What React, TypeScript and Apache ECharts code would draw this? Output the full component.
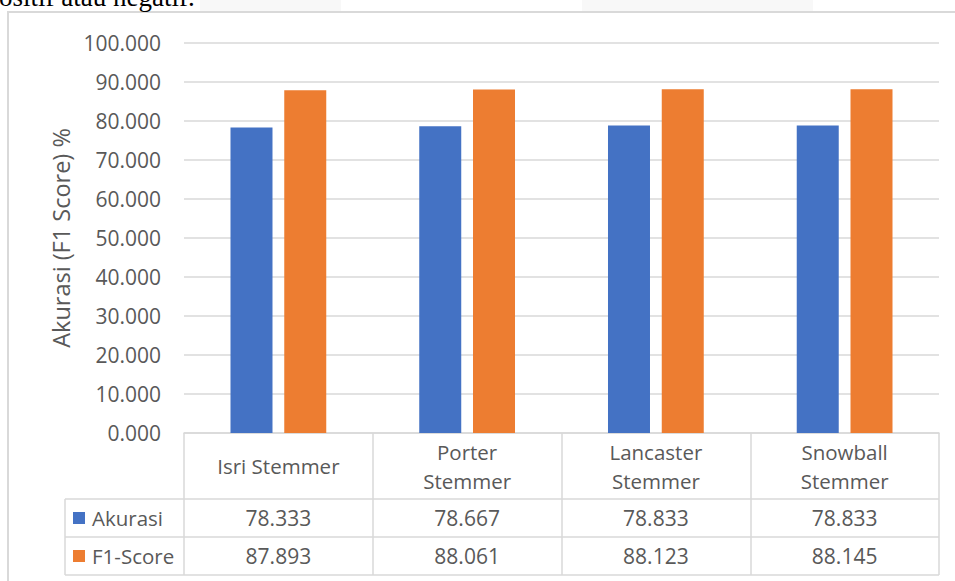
import React, { useEffect, useRef } from "react";
import * as echarts from "echarts";

const categories = ["Isri Stemmer", "Porter\nStemmer", "Lancaster\nStemmer", "Snowball\nStemmer"];
const seriesNames = ["Akurasi", "F1-Score"];
const akurasi = [78.333, 78.667, 78.833, 78.833];
const f1Score = [87.893, 88.061, 88.123, 88.145];
const yTicks = [0, 10, 20, 30, 40, 50, 60, 70, 80, 90, 100];
const yAxisTitle = "Akurasi (F1 Score) %";
const topText = "ositif atau negatif.";

const COLORS = ["#4472C4", "#ED7D31"];
const FONT = "Open Sans";
const TXT = "#595959";
const LINE = "#d9d9d9";

export default function App() {
  const ref = useRef<HTMLDivElement>(null);
  useEffect(() => {
    if (!ref.current) return;
    const chart = echarts.init(ref.current, null, { renderer: "svg" });
    const fmt = (v: number) => v.toFixed(3);
    chart.setOption({
      animation: false,
      grid: { left: 184, right: 16, top: 43, bottom: 148 },
      xAxis: {
        type: "category",
        data: categories,
        axisLine: { lineStyle: { color: LINE, width: 1.5 } },
        axisTick: { show: true, length: 142, lineStyle: { color: LINE, width: 1.5 } },
        axisLabel: {
          margin: 33,
          verticalAlign: "middle",
          lineHeight: 29,
          fontSize: 20.5,
          color: TXT,
          fontFamily: FONT,
        },
      },
      yAxis: {
        type: "value",
        min: yTicks[0],
        max: yTicks[yTicks.length - 1],
        interval: yTicks[1] - yTicks[0],
        axisLabel: { formatter: fmt, margin: 23, fontSize: 21, color: TXT, fontFamily: FONT },
        splitLine: { lineStyle: { color: LINE, width: 1.5 } },
        axisLine: { show: false },
        axisTick: { show: false },
        name: yAxisTitle,
        nameLocation: "middle",
        nameGap: 111,
        nameTextStyle: { fontSize: 23.5, color: TXT, fontFamily: FONT },
      },
      series: [
        { name: seriesNames[0], type: "bar", data: akurasi, barWidth: 42, barGap: "28%", itemStyle: { color: COLORS[0] } },
        { name: seriesNames[1], type: "bar", data: f1Score, barWidth: 42, barGap: "28%", itemStyle: { color: COLORS[1] } },
      ],
    });

    const y0 = chart.convertToPixel({ yAxisIndex: 0 }, 0) as number;
    const xs = categories.map((_, i) => chart.convertToPixel({ xAxisIndex: 0 }, i) as number);
    const step = xs.length > 1 ? xs[1] - xs[0] : 188;
    const xRight = xs[xs.length - 1] + step / 2;
    const xLeftTable = 65;
    const rowTops = [y0 + 66, y0 + 104, y0 + 142];
    const graphics: any[] = [];
    graphics.push({ type: "rect", shape: { x: 341, y: 0, width: 0, height: 0 }, style: { fill: "none" }, silent: true });
    graphics.push({ type: "rect", shape: { x: 582, y: 0, width: 231, height: 11 }, style: { fill: "#f8f8f8" }, silent: true });
    graphics.push({ type: "rect", shape: { x: 200, y: 0, width: 141, height: 11 }, style: { fill: "#f8f8f8" }, silent: true });
    graphics.push({ type: "rect", shape: { x: 8, y: 12, width: 1000, height: 700 }, style: { fill: "none", stroke: LINE, lineWidth: 2 }, silent: true });
    graphics.push({ type: "text", x: -1, y: -3, style: { text: topText, font: "27px 'Liberation Serif'", fill: "#000", textVerticalAlign: "middle" } });
    rowTops.forEach((y) => {
      graphics.push({ type: "line", shape: { x1: xLeftTable, y1: y, x2: xRight, y2: y }, style: { stroke: LINE, lineWidth: 1.5 }, silent: true });
    });
    graphics.push({ type: "line", shape: { x1: xLeftTable, y1: rowTops[0], x2: xLeftTable, y2: rowTops[2] }, style: { stroke: LINE, lineWidth: 1.5 }, silent: true });
    const rows = [akurasi, f1Score];
    rows.forEach((vals, r) => {
      const cy = (rowTops[r] + rowTops[r + 1]) / 2;
      graphics.push({ type: "rect", shape: { x: 73, y: cy - 6, width: 12, height: 12 }, style: { fill: COLORS[r] } });
      graphics.push({ type: "text", x: 92, y: cy, style: { text: seriesNames[r], font: `20.5px '${FONT}'`, fill: TXT, textAlign: "left", textVerticalAlign: "middle" } });
      vals.forEach((v, i) => {
        graphics.push({ type: "text", x: xs[i], y: cy, style: { text: fmt(v), font: `21px '${FONT}'`, fill: TXT, textAlign: "center", textVerticalAlign: "middle" } });
      });
    });
    chart.setOption({ graphic: graphics });
    return () => chart.dispose();
  }, []);
  return <div ref={ref} style={{ position: "absolute", left: 0, top: 0, width: 955, height: 581, background: "#fff" }} />;
}
